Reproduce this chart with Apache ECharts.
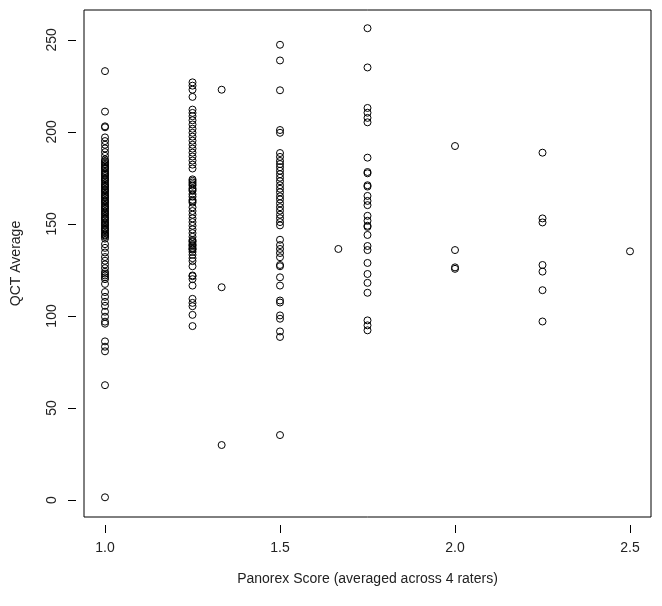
<!DOCTYPE html>
<html>
<head>
<meta charset="utf-8">
<script src="https://cdn.jsdelivr.net/npm/echarts@6/dist/echarts.min.js"></script>
<style>html,body{margin:0;padding:0;background:#fff;}#c{width:662px;height:606px;}</style>
</head>
<body>
<div id="c"></div>
<script>
// Panorex score levels and QCT averages observed at each level
const xLevels = [1.0, 1.25, 1.3333, 1.5, 1.6667, 1.75, 2.0, 2.25, 2.5];
const qct100 = [233, 211, 203, 202.5, 197, 195, 193, 191, 189, 187, 185, 184.2, 183.5, 182.7, 182, 181, 180.4, 180, 178.8, 178, 177.3, 176.7, 176, 175, 174.3, 173.8, 173, 172, 171.2, 170.6, 170, 169, 168.3, 167.8, 167, 166, 165.4, 164.7, 164, 163, 162.3, 161.8, 161, 160, 159.4, 158.7, 158, 157, 156.2, 155.6, 155, 154, 153.3, 152.8, 152, 151, 150.3, 149.6, 149, 148, 147.4, 146.8, 146, 145, 144.2, 143.7, 143, 142, 139, 137, 134.5, 132, 130, 128, 126, 124, 123, 122, 121, 120, 117.4, 113, 110.4, 107.7, 105.5, 102.3, 99.6, 96.9, 95.8, 86.2, 83.3, 80.8, 62.4, 1.5];
const qct125 = [226.9, 225.1, 222.9, 219, 212.1, 210.3, 208.5, 206.3, 204, 201.7, 199.5, 197.4, 195.2, 193, 190.9, 188.7, 186.6, 184.4, 182.2, 180.1, 174.2, 173.4, 172.5, 171.6, 170.8, 169.4, 168.6, 167.9, 166.2, 164.8, 163.1, 162.4, 161.6, 159, 157, 155, 153, 151, 149, 147, 145, 143, 141.3, 140.7, 140.2, 139.1, 138.5, 138, 137, 136.4, 136, 134.8, 133.2, 131.4, 129.8, 127, 122, 121.6, 120, 116.5, 109.3, 107.1, 105.3, 100.6, 94.5];
const qct133 = [222.9, 115.6, 29.9];
const qct150 = [247.3, 238.8, 222.6, 201, 199.5, 188.5, 186.4, 184.2, 182.5, 180.8, 178.9, 177, 175.1, 173.2, 171, 169.1, 167.2, 165, 163.3, 161.2, 159.1, 157.2, 155, 153.1, 151, 149.2, 141.4, 138.5, 136.4, 134.2, 131.9, 127.7, 127, 121, 116.5, 108.4, 107.3, 100.3, 98.5, 91.6, 88.6, 35.3];
const qct167 = [136.4];
const qct175 = [256.3, 235, 213, 210.4, 207.6, 205.2, 186, 178.2, 177.5, 171, 170.3, 165.2, 162.5, 160.2, 154.4, 151.7, 149, 148.4, 144, 138, 135.8, 128.8, 122.8, 118, 112.6, 97.6, 94.9, 92.2];
const qct200 = [192.3, 135.8, 126.4, 125.6];
const qct225 = [188.7, 153, 150.8, 127.7, 124.1, 114, 97];
const qct250 = [135.1];
const xTicks = [1.0, 1.5, 2.0, 2.5];
const yTicks = [0, 50, 100, 150, 200, 250];

const columns = [qct100, qct125, qct133, qct150, qct167, qct175, qct200, qct225, qct250];
const points = [];
columns.forEach((col, i) => col.forEach(v => points.push([xLevels[i], v])));

const font = 'Liberation Sans, Arial, sans-serif';
const chart = echarts.init(document.getElementById('c'), null, {renderer: 'canvas'});
chart.setOption({
  animation: false,
  backgroundColor: '#ffffff',
  grid: {left: 84, right: 11, top: 10, bottom: 89, show: true, borderColor: '#000', borderWidth: 1, backgroundColor: 'transparent'},
  xAxis: {
    type: 'value', min: 0.94, max: 2.56, offset: 8,
    name: 'Panorex Score (averaged across 4 raters)', nameLocation: 'middle', nameGap: 47,
    nameTextStyle: {fontFamily: font, fontSize: 14, color: '#222'},
    axisLine: {show: false, onZero: false}, splitLine: {show: false},
    axisTick: {show: true, length: 8, customValues: xTicks, lineStyle: {color: '#000'}},
    axisLabel: {customValues: xTicks, margin: 16, fontFamily: font, fontSize: 14, color: '#222', formatter: v => v.toFixed(1)}
  },
  yAxis: {
    type: 'value', min: -9.2, max: 266.2, offset: 8,
    name: 'QCT Average', nameLocation: 'middle', nameGap: 53,
    nameTextStyle: {fontFamily: font, fontSize: 14, color: '#222'},
    axisLine: {show: false, onZero: false}, splitLine: {show: false},
    axisTick: {show: true, length: 8, customValues: yTicks, lineStyle: {color: '#000'}},
    axisLabel: {customValues: yTicks, margin: 17, rotate: 90, fontFamily: font, fontSize: 14, color: '#222'}
  },
  series: [{
    type: 'scatter', data: points, symbol: 'circle', symbolSize: 7,
    itemStyle: {color: 'rgba(0,0,0,0)', borderColor: '#000', borderWidth: 1, opacity: 1}
  }]
});
</script>
</body>
</html>
